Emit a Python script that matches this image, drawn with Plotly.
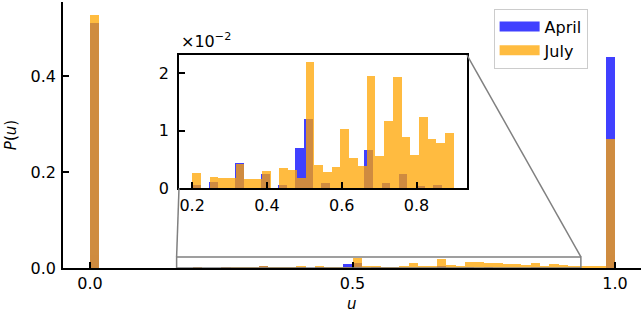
import numpy as np
import plotly.graph_objects as go

# ---------------- data ----------------
series_names = ["April", "July"]
series_colors = ["blue", "orange"]

# main histogram: 56 equal bins on [0, 1]
main_bin_count = 56
april_main = [0.51, 0, 0, 0, 0, 0, 0, 0, 0, 0,
              0, 0.0005, 0, 0, 0.001, 0, 0, 0, 0.0035, 0,
              0, 0, 0.002, 0, 0.0005, 0, 0, 0.0075, 0.011, 0,
              0.0007, 0, 0, 0, 0, 0, 0, 0.005, 0, 0,
              0.0007, 0, 0.002, 0, 0, 0, 0, 0.0005, 0, 0,
              0, 0, 0, 0, 0, 0.44]
july_main = [0.527, 0, 0, 0, 0, 0, 0, 0, 0, 0,
             0, 0.002, 0, 0, 0.0015, 0.0015, 0.0013, 0.0013, 0.0035, 0.0012,
             0.0012, 0.001, 0.0025, 0, 0.003, 0.002, 0.002, 0.002, 0.021, 0.003,
             0.003, 0.002, 0.002, 0.003, 0.011, 0.004, 0.003, 0.018, 0.006, 0.004,
             0.0125, 0.012, 0.011, 0.0097, 0.0076, 0.008, 0.0055, 0.0097, 0.005, 0.008,
             0.006, 0.003, 0.005, 0.003, 0.003, 0.269]

# inset histograms (values in units of 1e-2), 30 bins each
inset_bin_count = 30
april_inset_range = [0.2, 0.891]
july_inset_range = [0.2, 0.9]
april_inset = [0.06, 0, 0.1, 0, 0, 0.43, 0, 0, 0.25, 0,
               0.06, 0, 0.7, 1.21, 0, 0.09, 0, 0, 0, 0,
               0.66, 0, 0.09, 0, 0.25, 0, 0.03, 0, 0.06, 0]
july_inset = [0.26, 0, 0.19, 0.17, 0.17, 0.42, 0.16, 0.16, 0.30, 0,
              0.35, 0.32, 0.17, 2.2, 0.40, 0.28, 0.36, 1.02, 0.53, 0.38,
              1.95, 0.55, 1.17, 1.93, 0.89, 0.58, 1.23, 0.85, 0.78, 0.95]

main_xticks = [0.0, 0.5, 1.0]
main_xticklabels = ["0.0", "0.5", "1.0"]
main_yticks = [0.0, 0.2, 0.4]
main_yticklabels = ["0.0", "0.2", "0.4"]
inset_xticks = [0.2, 0.4, 0.6, 0.8]
inset_xticklabels = ["0.2", "0.4", "0.6", "0.8"]
inset_yticks = [0, 1, 2]
inset_yticklabels = ["0", "1", "2"]

# ---------------- layout constants ----------------
W, H = 644, 314
FONT = "DejaVu Sans"
main_xrange = [-0.0514, 1.0495]
main_yrange = [0, 0.554]
inset_xrange = [0.165, 0.935]
inset_yrange = [0, 2.316]
inset_xdom = [0.2007, 0.699]
inset_ydom = [0.3, 0.8]
ALPHA = 0.75

fig = go.Figure()

main_edges = np.linspace(0, 1, main_bin_count + 1)
main_w = main_edges[1] - main_edges[0]
for name, color, vals in zip(series_names, series_colors, [april_main, july_main]):
    fig.add_trace(go.Bar(x=main_edges[:-1], y=vals, width=main_w, offset=0,
                         marker=dict(color=color, line=dict(width=0)),
                         opacity=ALPHA, name=name, showlegend=False,
                         xaxis="x", yaxis="y"))

for color, vals, rng in zip(series_colors, [april_inset, july_inset],
                            [april_inset_range, july_inset_range]):
    edges = np.linspace(rng[0], rng[1], inset_bin_count + 1)
    w = edges[1] - edges[0]
    fig.add_trace(go.Bar(x=edges[:-1], y=vals, width=w, offset=0,
                         marker=dict(color=color, line=dict(width=0)),
                         opacity=ALPHA, showlegend=False,
                         xaxis="x2", yaxis="y2"))

# legend proxies (patch-like swatches)
for name, color in zip(series_names, series_colors):
    fig.add_trace(go.Scatter(x=[None], y=[None], mode="lines", name=name,
                             line=dict(color=color, width=10), opacity=ALPHA,
                             xaxis="x", yaxis="y"))

axis_common = dict(showgrid=False, zeroline=False, showline=True, linecolor="black",
                   linewidth=1.5, ticks="inside", tickcolor="black", tickwidth=1.5,
                   ticklen=6, tickfont=dict(family=FONT, size=16, color="black"))

fig.update_layout(
    width=W, height=H,
    margin=dict(l=63, r=3, t=2, b=46, autoexpand=False),
    paper_bgcolor="white", plot_bgcolor="white",
    barmode="overlay", bargap=0,
    font=dict(family=FONT, size=16, color="black"),
    xaxis=dict(domain=[0, 1], range=main_xrange, tickvals=main_xticks,
               ticktext=main_xticklabels, anchor="y", ticklabelstandoff=0,
               automargin=False, **axis_common),
    yaxis=dict(domain=[0, 1], range=main_yrange, tickvals=main_yticks,
               ticktext=main_yticklabels, anchor="x", ticklabelstandoff=2,
               title=dict(text="<i>P</i>(<i>u</i>)", font=dict(size=15), standoff=10),
               automargin=False, **axis_common),
    xaxis2=dict(domain=inset_xdom, range=inset_xrange, tickvals=inset_xticks,
                ticktext=inset_xticklabels, anchor="y2", mirror=True,
                ticklabelstandoff=2, **axis_common),
    yaxis2=dict(domain=inset_ydom, range=inset_yrange, tickvals=inset_yticks,
                ticktext=inset_yticklabels, anchor="x2", mirror=True,
                ticklabelstandoff=5, **axis_common),
    legend=dict(x=0.745, y=0.975, xanchor="left", yanchor="top",
                bgcolor="rgba(255,255,255,0.8)", bordercolor="#cccccc", borderwidth=1,
                font=dict(family=FONT, size=16), traceorder="normal",
                itemwidth=40, tracegroupgap=0),
)

# x axis label
fig.add_annotation(xref="x domain", yref="paper", x=0.5, y=-0.1353, xanchor="center",
                   yanchor="middle", showarrow=False, text="<i>u</i>",
                   font=dict(family=FONT, size=15))

# inset white background
fig.add_shape(type="rect", xref="x2 domain", yref="y2 domain", x0=0, x1=1, y0=0, y1=1,
              fillcolor="white", line=dict(width=0), layer="below")

# zoom indicator rectangle and connectors (main data coords)
rect_y1 = inset_yrange[1] * 1e-2
grey = "#808080"
fig.add_shape(type="rect", xref="x", yref="y", x0=inset_xrange[0], x1=inset_xrange[1],
              y0=0, y1=rect_y1, line=dict(color=grey, width=1.5))

def to_main(px_frac, py_frac):
    return (main_xrange[0] + px_frac * (main_xrange[1] - main_xrange[0]),
            main_yrange[0] + py_frac * (main_yrange[1] - main_yrange[0]))

bl = to_main(inset_xdom[0], inset_ydom[0])
tr = to_main(inset_xdom[1], inset_ydom[1])
fig.add_shape(type="line", xref="x", yref="y", x0=bl[0], y0=bl[1],
              x1=inset_xrange[0], y1=rect_y1, line=dict(color=grey, width=1.5))
fig.add_shape(type="line", xref="x", yref="y", x0=tr[0], y0=tr[1],
              x1=inset_xrange[1], y1=rect_y1, line=dict(color=grey, width=1.5))

# offset text of inset y axis
fig.add_annotation(xref="x2 domain", yref="y2 domain", x=0.0, y=1.0,
                   xanchor="left", yanchor="bottom", yshift=2, showarrow=False,
                   text="×10<sup>−2</sup>", font=dict(family=FONT, size=16))

fig.write_html("out.html", config={"displayModeBar": False},
               post_script="document.body.style.margin='0px';document.body.style.overflow='hidden';")
